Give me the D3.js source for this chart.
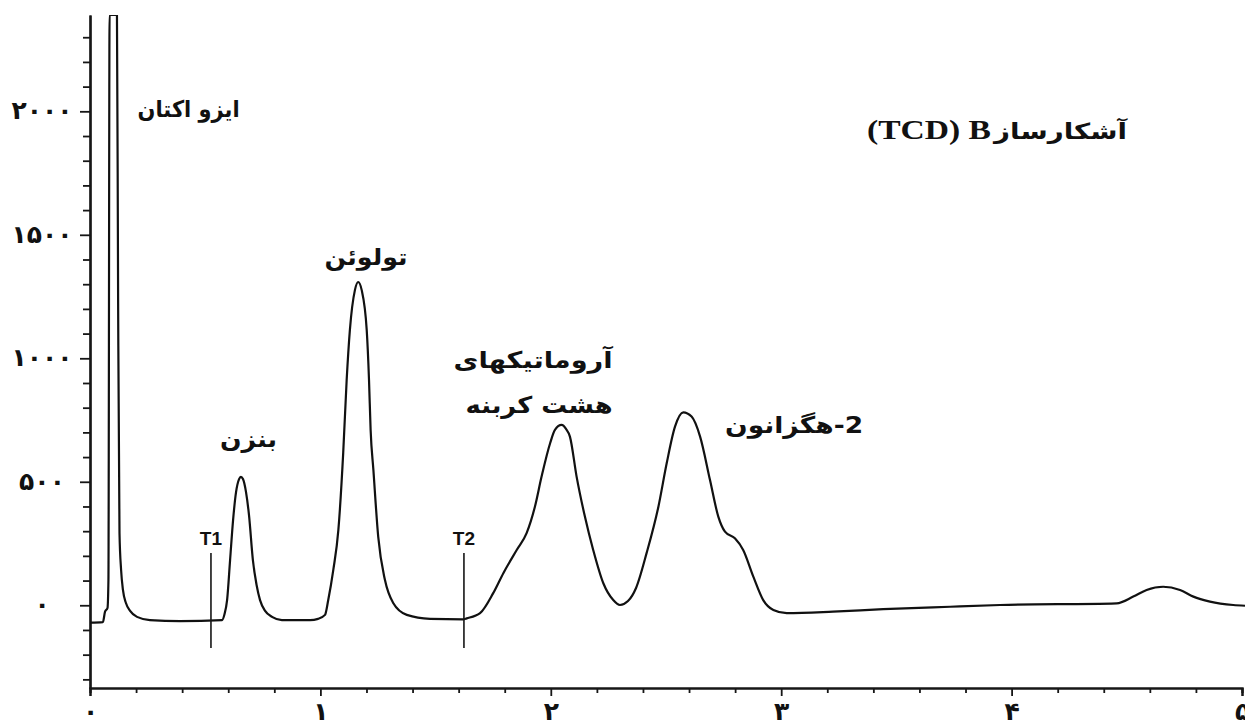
<!DOCTYPE html>
<html>
<head>
<meta charset="utf-8">
<script src="https://cdn.jsdelivr.net/npm/d3@7"></script>
<style>
  body { margin: 0; background: #fff; }
  svg { display: block; }
</style>
</head>
<body>
<svg id="chart" width="1245" height="726"></svg>
<script>
// Chromatogram trace: retention time (min) and detector signal
const retentionTime = [
  0.000, 0.056, 0.065, 0.076, 0.080, 0.085, 0.117, 0.122, 0.128, 0.135, 0.143, 0.156, 0.174, 0.204, 0.260, 0.391, 0.573,
  0.584, 0.595, 0.608, 0.621, 0.634, 0.647, 0.655, 0.664, 0.677, 0.690, 0.707, 0.723, 0.738, 0.760, 0.790, 0.833, 0.955,
  0.990, 1.020, 1.034, 1.056, 1.078, 1.099, 1.114, 1.128, 1.150, 1.164, 1.179, 1.201, 1.211, 1.218, 1.230, 1.251, 1.280,
  1.316, 1.375, 1.476, 1.619,
  1.635, 1.693, 1.750, 1.794, 1.852, 1.895, 1.931, 1.960, 1.997, 2.018, 2.047, 2.066, 2.083, 2.112, 2.148, 2.184, 2.228,
  2.271, 2.300, 2.335,
  2.370, 2.416, 2.467, 2.503, 2.539, 2.575, 2.611, 2.648, 2.691, 2.727, 2.756, 2.799, 2.835, 2.879, 2.922, 2.966,
  3.024, 3.225, 3.443, 3.733, 3.950, 4.456,
  4.528, 4.586, 4.658, 4.731, 4.789, 4.861, 4.962, 5.013
];
const signal = [
  -70, -68, -27, -11, 102, 2390, 2390, 1236, 293, 143, 62, 9, -23, -47, -60, -64, -60,
  -35, 21, 183, 345, 459, 511, 520, 511, 459, 366, 183, 82, 21, -23, -47, -60, -60,
  -55, -39, 21, 143, 305, 617, 912, 1115, 1277, 1309, 1277, 1115, 912, 710, 548, 277, 103,
  9, -39, -55, -57,
  -53, -32, 49, 130, 224, 292, 399, 521, 656, 710, 730, 714, 683, 521, 359, 224, 89,
  21, 1, 17,
  70, 212, 399, 575, 723, 781, 764, 683, 507, 359, 298, 271, 224, 116, 21, -19,
  -32, -26, -16, -6, 1, 8,
  35, 62, 75, 62, 35, 15, 1, -2
];

// Peak names and integration markers
const peakNames = ["ایزو اکتان", "بنزن", "تولوئن", "آروماتیکهای", "هشت کربنه", "2-هگزانون"];
const markerNames = ["T1", "T2"];
const markerTimes = [0.525, 1.623];

// Axis ticks and their Persian-digit labels
const xMajorTicks = [0, 1, 2, 3, 4, 5];
const xTickLabels = ["۰", "۱", "۲", "۳", "۴", "۵"];
const yMajorTicks = [0, 500, 1000, 1500, 2000];
const yTickLabels = ["۰", "۵۰۰", "۱۰۰۰", "۱۵۰۰", "۲۰۰۰"];

const detectorLabel = "آشکارساز";
const detectorCode = "(TCD) B";

// ---- layout ----
const svg = d3.select("#chart");
const plotLeft = 90, plotRight = 1242, plotTop = 15, plotBottom = 688;

const x = d3.scaleLinear().domain([0, 5]).range([plotLeft, plotRight]);
const y = d3.scaleLinear().domain([-335, 2390]).range([plotBottom, plotTop]);

const ink = "#161616";
const persianFont = "'DejaVu Sans', sans-serif";

// Minor ticks every 0.2 min / 100 units
const xMinor = d3.range(0, 5.0001, 0.2).filter(v => Math.abs(v - Math.round(v)) > 1e-6);
const yMinor = d3.range(-300, 2301, 100).filter(v => v % 500 !== 0);

// X axis
const gx = svg.append("g").attr("transform", `translate(0,${plotBottom})`);
gx.append("g").call(d3.axisBottom(x).tickValues(xMinor).tickSize(5).tickFormat(""));
gx.append("g").call(d3.axisBottom(x).tickValues(xMajorTicks).tickSize(8)
  .tickFormat((d, i) => xTickLabels[i]).tickPadding(19));
gx.selectAll(".domain").attr("stroke", ink).attr("stroke-width", 2.2);
gx.selectAll(".tick line").attr("stroke", ink).attr("stroke-width", 1.8);
gx.selectAll(".tick text")
  .attr("font-family", persianFont).attr("font-weight", "bold")
  .attr("font-size", 25).attr("fill", "#111").attr("dy", "0.2em");

// Y axis
const gy = svg.append("g").attr("transform", `translate(${plotLeft},0)`);
gy.append("g").call(d3.axisLeft(y).tickValues(yMinor).tickSize(7).tickFormat("").tickSizeOuter(0));
gy.append("g").call(d3.axisLeft(y).tickValues(yMajorTicks).tickSize(10).tickSizeOuter(0)
  .tickFormat((d, i) => yTickLabels[i]));
gy.selectAll(".domain").attr("stroke", ink).attr("stroke-width", 2.2);
gy.selectAll(".tick line").attr("stroke", ink).attr("stroke-width", 1.8);
gy.selectAll(".tick text")
  .attr("font-family", persianFont).attr("font-weight", "bold")
  .attr("font-size", 25).attr("fill", "#111")
  .attr("text-anchor", "middle").attr("x", -48).attr("dy", "0.3em");

// Trace
svg.append("clipPath").attr("id", "plot-clip")
  .append("rect").attr("x", plotLeft).attr("y", plotTop)
  .attr("width", plotRight - plotLeft + 10).attr("height", plotBottom - plotTop);

const trace = retentionTime.map((t, i) => [t, signal[i]]);
const line = d3.line().x(d => x(d[0])).y(d => y(d[1])).curve(d3.curveMonotoneX);
svg.append("path")
  .datum(trace)
  .attr("clip-path", "url(#plot-clip)")
  .attr("fill", "none")
  .attr("stroke", "#111")
  .attr("stroke-width", 2.2)
  .attr("stroke-linejoin", "round")
  .attr("d", line);

// Integration markers T1 / T2
markerTimes.forEach((t, i) => {
  svg.append("line")
    .attr("x1", x(t)).attr("x2", x(t))
    .attr("y1", y(212)).attr("y2", y(-173))
    .attr("stroke", ink).attr("stroke-width", 1.6);
  svg.append("text")
    .attr("x", x(t)).attr("y", y(243))
    .attr("text-anchor", "middle")
    .attr("font-family", "'Liberation Sans', Arial, sans-serif")
    .attr("font-weight", "bold").attr("font-size", 19)
    .attr("fill", "#111")
    .text(markerNames[i]);
});

// Peak labels: anchor point in data coordinates and rendered width in px
const peakLabelPlacement = [
  [0.428, 1977, 102], [0.688, 641, 57], [1.198, 1378, 83],
  [1.923, 961, 159], [1.949, 778, 147], [3.056, 698, 138]
];
peakNames.forEach((name, i) => {
  const [t, v, w] = peakLabelPlacement[i];
  svg.append("text")
    .attr("x", x(t) - w / 2).attr("y", y(v))
    .attr("direction", "ltr")
    .attr("textLength", w)
    .attr("lengthAdjust", "spacingAndGlyphs")
    .attr("font-family", persianFont)
    .attr("font-weight", "bold").attr("font-size", 23)
    .attr("fill", "#111")
    .text(name.startsWith("2-") ? "\u202B" + name + "\u202C" : name);
});

// Detector title
svg.append("text")
  .attr("x", 867).attr("y", 139)
  .attr("textLength", 124)
  .attr("lengthAdjust", "spacingAndGlyphs")
  .attr("font-family", "'Liberation Serif', 'Times New Roman', serif")
  .attr("font-weight", "bold").attr("font-size", 27)
  .attr("fill", "#111")
  .text(detectorCode);
svg.append("text")
  .attr("x", 994).attr("y", 139)
  .attr("textLength", 133)
  .attr("lengthAdjust", "spacingAndGlyphs")
  .attr("font-family", persianFont)
  .attr("font-weight", "bold").attr("font-size", 22)
  .attr("fill", "#111")
  .text(detectorLabel);
</script>
</body>
</html>
